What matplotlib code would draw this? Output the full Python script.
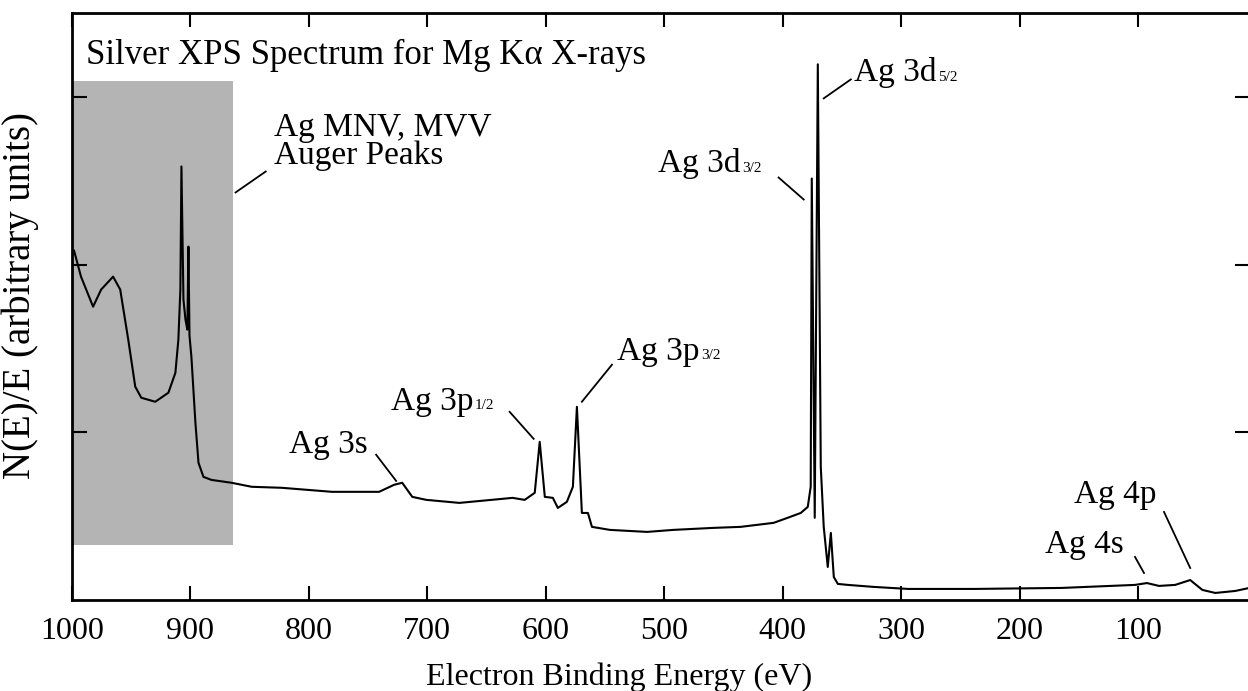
import matplotlib.pyplot as plt

plt.rcParams['font.family'] = ['Liberation Serif', 'DejaVu Serif']

# binding energy (eV) and N(E)/E
energy = [1000, 998.3, 992.4, 982.2, 975.4, 965.3, 959.3, 952.5, 946.6, 941.5,
          929.7, 918.6, 912.7, 910.2, 908.5, 907.6, 905.9, 904.2, 902.6, 901.7,
          900.8, 899.2, 895.8, 893.2, 889.0, 882.2, 865.3, 848.3, 822.9, 780.5,
          740.7, 728.0, 721.2, 712.7, 700.8, 672.9, 628.0, 617.8, 609.3, 605.1,
          600.8, 594.0, 589.8, 582.2, 577.1, 573.7, 569.5, 564.4, 561.0, 545.8,
          514.4, 492.4, 458.5, 435.6, 407.6, 395.8, 384.7, 378.8, 376.3, 375.4,
          372.9, 370.3, 367.8, 365.3, 361.9, 359.3, 356.8, 353.4, 344.9, 322.9,
          294.1, 238.1, 164.4, 102.5, 92.4, 82.2, 68.6, 55.9, 45.6, 34.7,
          17.8, 5.9]
intensity = [2.090, 2.084, 1.928, 1.749, 1.851, 1.928, 1.851, 1.552, 1.272, 1.206,
             1.182, 1.236, 1.355, 1.552, 1.851, 2.585, 1.791, 1.672, 1.612, 2.107,
             1.576, 1.451, 1.057, 0.818, 0.734, 0.716, 0.699, 0.675, 0.669, 0.645,
             0.645, 0.687, 0.699, 0.615, 0.597, 0.579, 0.609, 0.597, 0.639, 0.943,
             0.615, 0.609, 0.549, 0.585, 0.675, 1.152, 0.519, 0.519, 0.436, 0.418,
             0.406, 0.418, 0.430, 0.436, 0.460, 0.490, 0.519, 0.555, 0.675, 2.513,
             0.490, 3.194, 0.794, 0.436, 0.197, 0.400, 0.137, 0.096, 0.090, 0.078,
             0.066, 0.066, 0.072, 0.090, 0.101, 0.084, 0.090, 0.119, 0.060, 0.042,
             0.054, 0.072]

# Auger region (shaded box)
auger_lo, auger_hi = 864.4, 1000
auger_bottom, auger_top = 0.328, 3.093

# peak labels: main text, subscript, text anchor, leader line start/end
peak_labels = ['Ag 3s', 'Ag 3p', 'Ag 3p', 'Ag 3d', 'Ag 3d', 'Ag 4p', 'Ag 4s']
peak_subs = ['', '1/2', '3/2', '3/2', '5/2', '', '']
label_xy = [(817.0, 0.878), (730.5, 1.134), (539.8, 1.433), (505.1, 2.549),
            (339.8, 3.093), (154.2, 0.579), (178.8, 0.281)]
leader_from = [(743.2, 0.866), (630.5, 1.122), (544.1, 1.403), (403.4, 2.519),
               (342.4, 3.104), (78.0, 0.525), (102.5, 0.257)]
leader_to = [(726.3, 0.710), (610.2, 0.961), (569.5, 1.182), (382.2, 2.388),
             (365.3, 2.991), (55.9, 0.191), (94.9, 0.161)]

x_ticks = [1000, 900, 800, 700, 600, 500, 400, 300, 200, 100]
y_ticks = [1, 2, 3]

fig = plt.figure(figsize=(12.48, 6.91), dpi=100)
ax = fig.add_axes([72 / 1248, 91 / 691, 1178 / 1248, 587 / 691])

ax.fill_between([auger_lo, auger_hi], auger_bottom, auger_top,
                color='#b4b4b4', lw=0, zorder=1)
ax.plot(energy, intensity, color='black', lw=1.5, zorder=3)

ax.set_xlim(1000, 5.4)
ax.set_ylim(0, 3.5)

ax.set_xticks(x_ticks)
ax.set_xticklabels([str(t) for t in x_ticks])
ax.set_yticks(y_ticks)
ax.set_yticklabels([])
ax.tick_params(axis='x', direction='in', length=10, width=1.5, top=True,
               labelsize=23, pad=12)
ax.tick_params(axis='y', direction='in', length=11, width=1.5, right=True)
for sp in ax.spines.values():
    sp.set_linewidth(2)

ax.set_xlabel('Electron Binding Energy (eV)', fontsize=23)
ax.xaxis.label.set_verticalalignment('baseline')
ax.xaxis.set_label_coords(0.464, -0.145)
ax.set_ylabel('N(E)/E (arbitrary units)', fontsize=28)
ax.yaxis.set_label_coords(-0.028, 0.519)

ax.text(988.1, 3.194, 'Silver XPS Spectrum for Mg K\u03b1 X-rays',
        fontsize=25, ha='left', va='baseline')

ax.text(829.7, 2.764, 'Ag MNV, MVV', fontsize=24, ha='left', va='baseline')
ax.text(829.7, 2.597, 'Auger Peaks', fontsize=24, ha='left', va='baseline')
ax.plot([861.9, 836.4], [2.430, 2.555], color='black', lw=1.3)

for name, sub, xy, p0, p1 in zip(peak_labels, peak_subs, label_xy,
                                  leader_from, leader_to):
    t = ax.text(xy[0], xy[1], name, fontsize=24, ha='left', va='baseline')
    if sub:
        ax.annotate(sub, xy=(1, 0), xycoords=t, xytext=(1, 5.5),
                    textcoords='offset points', fontsize=11,
                    ha='left', va='baseline')
    ax.plot([p0[0], p1[0]], [p0[1], p1[1]], color='black', lw=1.3)

plt.savefig('out.png', dpi=100)
